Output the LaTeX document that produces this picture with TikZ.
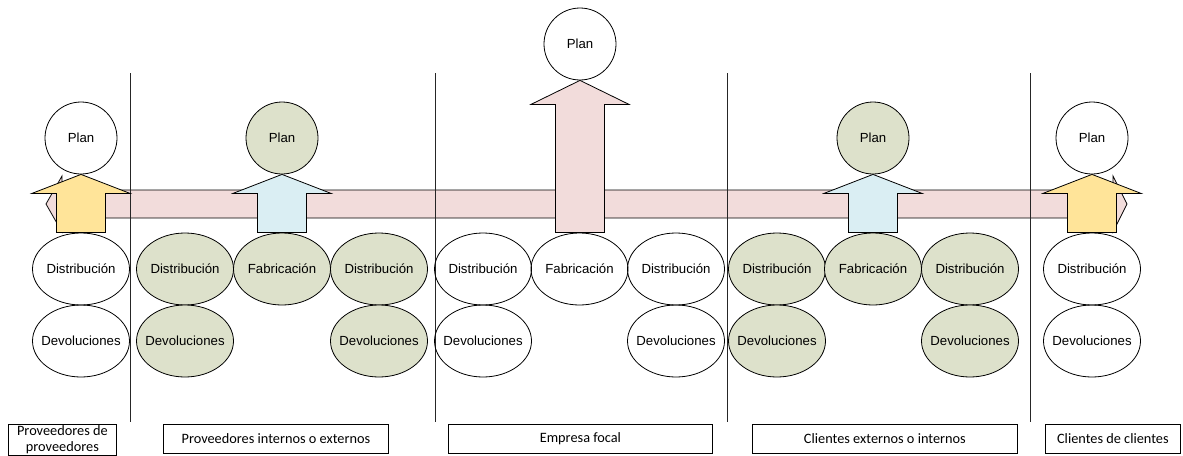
\documentclass[tikz,border=0pt]{standalone}
\usepackage{fontspec}
\setmainfont{Liberation Sans}
\newfontfamily\boxfont{Carlito}
\usetikzlibrary{shapes.geometric}
\definecolor{proc}{HTML}{DDE1CB}
\definecolor{flow}{HTML}{F2DCDB}
\definecolor{tier}{HTML}{FFE499}
\definecolor{inner}{HTML}{DAEEF3}
\tikzset{
  stage/.style={ellipse, draw, line width=0.8pt, minimum width=97pt, minimum height=72pt,
    inner sep=0pt, font=\fontsize{13.2}{15}\selectfont},
  plan/.style={circle, draw, line width=0.8pt, minimum size=72pt, inner sep=0pt,
    fill=white, font=\fontsize{13.2}{15}\selectfont},
  shade/.style={fill=proc},
  divider/.style={line width=0.8pt, draw=black!85},
  label box/.style={draw, line width=0.8pt, inner sep=0pt, anchor=north west,
    font=\boxfont\fontsize{14.3}{15.5}\selectfont, align=center},
  block/.style={draw, line width=0.8pt, line join=miter}
}
% centred label that leaves the ellipse at its fixed size
\newcommand\lbl[1]{\makebox[0pt]{#1}}
% upward block arrow: #1 fill, #2 target node, #3 head height, #4 shaft length
\newcommand\uparrowblock[4]{%
  \draw[block, fill=#1] (#2.south) -- ++(49,#3) -- ++(-24.5,0) -- ++(0,#4)
    -- ++(-49,0) -- ++(0,-#4) -- ++(-24.5,0) -- cycle;}
\begin{document}
\begin{tikzpicture}[x=1pt, y=-1pt]
\useasboundingbox (0,0) rectangle (1183,455);

% material flow band with heads at both ends
\draw[block, fill=flow] (46,204) -- (62,176) -- (62,190) -- (1113,190) -- (1113,176)
  -- (1127,204) -- (1113,232) -- (1113,218) -- (62,218) -- (62,232) -- cycle;

% tier dividers
\foreach \x in {130,435,727,1030}
  \draw[divider] (\x,73) -- (\x,422);

% suppliers of suppliers
\node[stage] (d1) at (81,269) {\lbl{Distribución}};
\node[stage] (r1) at (81,341) {\lbl{Devoluciones}};
\node[plan]  (p1) at (81,138) {Plan};

% internal or external suppliers
\node[stage, shade] (d2a) at (185,269) {\lbl{Distribución}};
\node[stage, shade] (m2)  at (282,269) {\lbl{Fabricación}};
\node[stage, shade] (d2b) at (379,269) {\lbl{Distribución}};
\node[stage, shade] (r2a) at (185,341) {\lbl{Devoluciones}};
\node[stage, shade] (r2b) at (379,341) {\lbl{Devoluciones}};
\node[plan, shade]  (p2)  at (282,138) {Plan};

% focal company
\node[stage] (d3a) at (483,269) {\lbl{Distribución}};
\node[stage] (m3)  at (579.5,269) {\lbl{Fabricación}};
\node[stage] (d3b) at (676,269) {\lbl{Distribución}};
\node[stage] (r3a) at (483,341) {\lbl{Devoluciones}};
\node[stage] (r3b) at (676,341) {\lbl{Devoluciones}};
\node[plan]  (p3)  at (580,44) {Plan};

% external or internal customers
\node[stage, shade] (d4a) at (777,269) {\lbl{Distribución}};
\node[stage, shade] (m4)  at (873,269) {\lbl{Fabricación}};
\node[stage, shade] (d4b) at (970,269) {\lbl{Distribución}};
\node[stage, shade] (r4a) at (777,341) {\lbl{Devoluciones}};
\node[stage, shade] (r4b) at (970,341) {\lbl{Devoluciones}};
\node[plan, shade]  (p4)  at (873,138) {Plan};

% customers of customers
\node[stage] (d5) at (1092,269) {\lbl{Distribución}};
\node[stage] (r5) at (1092,341) {\lbl{Devoluciones}};
\node[plan]  (p5) at (1092,138) {Plan};

% planning arrows
\uparrowblock{tier}{p1}{19}{39}
\uparrowblock{inner}{p2}{19}{39}
\uparrowblock{flow}{p3}{24}{128}
\uparrowblock{inner}{p4}{19}{39}
\uparrowblock{tier}{p5}{19}{39}

% tier captions
\node[label box, minimum width=108pt, minimum height=30.5pt] (t1) at (8,424)
  {Proveedores de\\proveedores};
\node[label box, minimum width=225pt, minimum height=29pt] (t2) at (163,424)
  {Proveedores internos o externos};
\node[label box, minimum width=264pt, minimum height=29pt] (t3) at (448,424)
  {Empresa focal};
\node[label box, minimum width=265pt, minimum height=29pt] (t4) at (752,424)
  {Clientes externos o internos};
\node[label box, minimum width=135pt, minimum height=29pt] (t5) at (1045,424)
  {Clientes de clientes};
\end{tikzpicture}
\end{document}
